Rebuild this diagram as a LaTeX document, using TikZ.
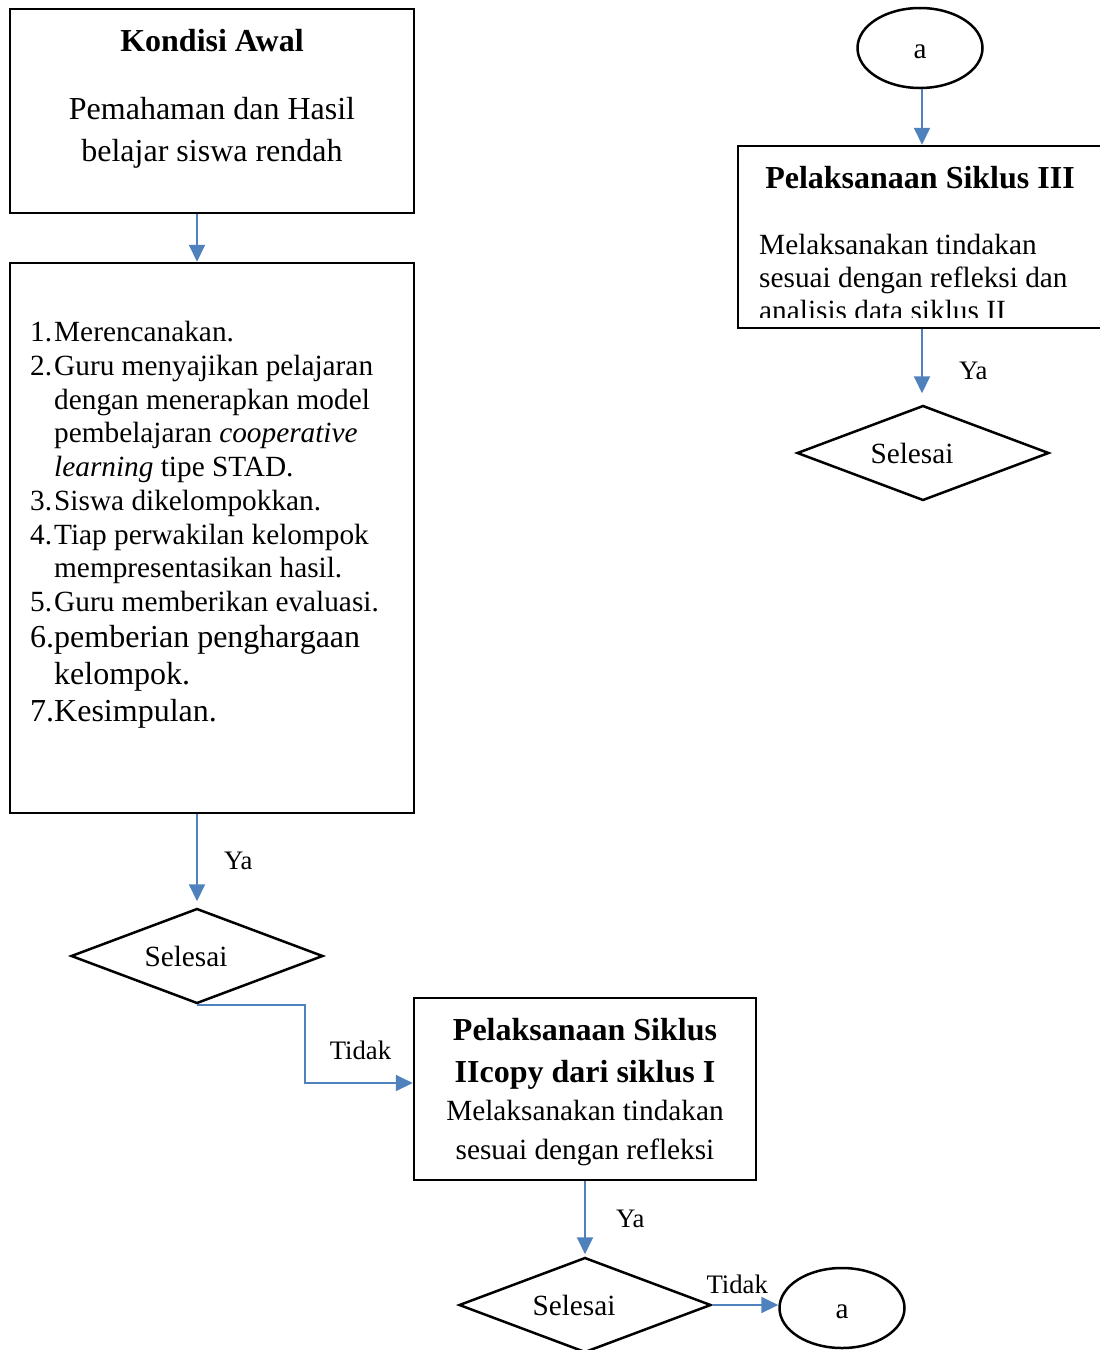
\documentclass[tikz,border=0pt]{standalone}
\usepackage{fontspec}
\setmainfont{Liberation Serif}
\usetikzlibrary{shapes.geometric,arrows.meta,positioning}
\newcommand\fbesar{\fontsize{32}{42}\selectfont}
\newcommand\fisi{\fontsize{29.3}{33.75}\selectfont}
\newcommand\fkecil{\fontsize{26.7}{32}\selectfont}
\newcommand\nomor[1]{\makebox[24pt][l]{#1}}
\definecolor{garisbiru}{RGB}{79,129,189}
\begin{document}
\begin{tikzpicture}[x=1pt,y=-1pt]
	\tikzset{
		kotak/.style={draw, rectangle, line width=2.5pt, inner sep=0pt},
		putusan/.style={draw, diamond, aspect=2.65, line width=2.5pt, inner sep=0pt,
			minimum width=252pt, minimum height=95pt, font=\fisi,
			execute at end node={\hspace*{22pt}}},
		bulat/.style={draw, ellipse, line width=2.5pt, inner sep=0pt,
			minimum width=125pt, minimum height=80pt, font=\fisi,
			text height=21.5pt, text depth=0pt},
		panah/.style={garisbiru, line width=2pt, -{Triangle[length=17pt,width=16pt]}},
		ket/.style={font=\fkecil, text=black, inner sep=0pt},
	}
	\clip (0,0) rectangle (1100,1350);
	
	% kolom kiri
	\node[kotak, minimum width=404pt, minimum height=204pt] (kondisi) at (212,111) {};
	\node[align=center, anchor=north, inner sep=0pt, font=\fbesar] (kondisiTeks) at (212,29)
	{\textbf{Kondisi Awal}\\[26pt]Pemahaman dan Hasil\\belajar siswa rendah};
	
	\node[kotak, minimum width=404pt, minimum height=550pt] (langkah) at (212,538) {};
	\node[align=left, anchor=north west, inner sep=0pt, font=\fisi] (langkahTeks) at (30,321)
	{\nomor{1.}Merencanakan.\\
		\nomor{2.}Guru menyajikan pelajaran\\
		\nomor{}dengan menerapkan model\\
		\nomor{}pembelajaran \textit{cooperative}\\
		\nomor{}\textit{learning} tipe STAD.\\
		\nomor{3.}Siswa dikelompokkan.\\
		\nomor{4.}Tiap perwakilan kelompok\\
		\nomor{}mempresentasikan hasil.\\
		\nomor{5.}Guru memberikan evaluasi.\\[2.25pt]
		{\fbesar\nomor{6.}pemberian penghargaan}\\[3.25pt]
		{\fbesar\nomor{}kelompok.}\\[3.25pt]
		{\fbesar\nomor{7.}Kesimpulan.}};
	
	\node[putusan] (selesaiA) at (197,956) {Selesai};
	
	% siklus II
	\node[kotak, minimum width=342pt, minimum height=182pt] (siklusII) at (585,1089) {};
	\node[align=center, anchor=north, inner sep=0pt, font={\fontsize{29.3}{39}\selectfont}] (siklusIITeks) at (585,1018)
	{{\fbesar\bfseries Pelaksanaan Siklus}\\[3pt]{\fbesar\bfseries IIcopy dari siklus I}\\[-1pt]Melaksanakan tindakan\\sesuai dengan refleksi};
	
	\node[putusan] (selesaiB) at (585,1305) {Selesai};
	\node[bulat] (aBawah) at (842,1308) {a};
	
	% kolom kanan
	\node[bulat] (aAtas) at (920,48) {a};
	\node[kotak, minimum width=368pt, minimum height=182pt] (siklusIII) at (922,237) {};
	\node[anchor=north, inner sep=0pt, font=\fbesar] (siklusIIIJudul) at (920,166) {\bfseries Pelaksanaan Siklus III};
	\begin{scope}
		\clip (siklusIII.north west) rectangle ([yshift=12pt]siklusIII.south east);
		\node[align=left, anchor=north west, inner sep=0pt, font={\fontsize{29.3}{33}\selectfont}] (siklusIIITeks) at (759,234)
		{Melaksanakan tindakan\\sesuai dengan refleksi dan\\analisis data siklus II};
	\end{scope}
	
	\node[putusan] (selesaiC) at (923,453) {Selesai};
	
	% panah
	\draw[panah] (kondisi.south -| selesaiA) -- (langkah.north -| selesaiA);
	\draw[panah, shorten >=6pt] (langkah.south -| selesaiA) -- node[ket, pos=0.5, right=26pt] {Ya} (selesaiA.north);
	\draw[panah] (selesaiA.south) -| node[ket, pos=0.79, right=24pt] {Tidak} ([xshift=-108pt,yshift=6pt]siklusII.west) -- ([yshift=6pt]siklusII.west);
	\draw[panah, shorten >=2pt] (siklusII.south -| selesaiB) -- node[ket, pos=0.5, right=30pt] {Ya} (selesaiB.north);
	\draw[panah] (selesaiB.east) -- node[ket, above=10pt, xshift=-8pt] {Tidak} (selesaiB.east -| aBawah.west);
	
	\draw[panah] (aAtas.south -| siklusIII) -- (siklusIII.north);
	\draw[panah, shorten >=11pt] (siklusIII.south) -- node[ket, pos=0.56, right=36pt] {Ya} (siklusIII.south |- selesaiC.north);
	
\end{tikzpicture}
\end{document}
